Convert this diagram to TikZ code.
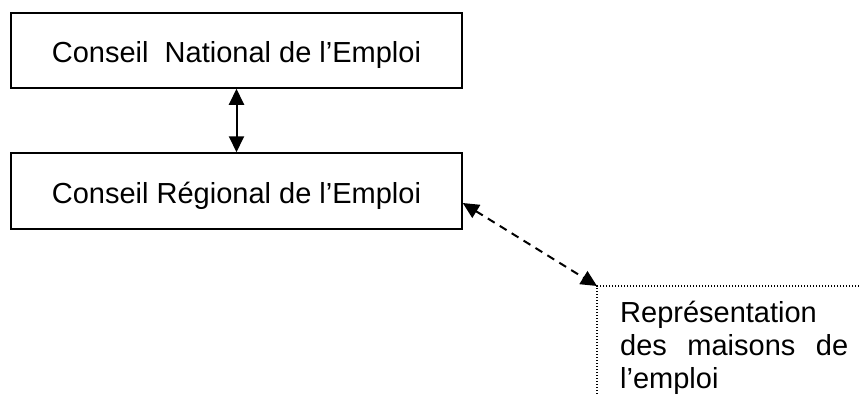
\documentclass[tikz,border=0pt]{standalone}
\usepackage{fontspec}
\setmainfont{Liberation Sans}
\usetikzlibrary{arrows.meta,calc}
\begin{document}
\begin{tikzpicture}[x=1pt,y=-1pt,
  boxstyle/.style={draw=black,line width=1.5pt,minimum width=451pt,inner sep=0pt,
    text height=25pt,text depth=0pt,font=\fontsize{29}{33}\selectfont},
  biarrow/.style={line width=2pt,{Triangle[length=16pt,width=15pt]}-{Triangle[length=16pt,width=15pt]}},
  dotline/.style={line width=1.2pt,dash pattern=on 1.2pt off 1.8pt},
  txt/.style={inner sep=0pt,font=\fontsize{29}{33}\selectfont}]
\useasboundingbox (0,0) rectangle (859,396);
\node[boxstyle,minimum height=75pt] (b1) at (236.5,50.5) {Conseil~ National de l'Emploi};
\node[boxstyle,minimum height=76pt] (b2) at (236.5,191) {Conseil Régional de l'Emploi};
\draw[biarrow] (b1.south) -- (b2.north);
\coordinate (rc) at (597,286);
\coordinate (rr) at (859,286);
\coordinate (rb) at (597,396);
\draw[dotline] (rr) -- (rc) -- (rb);
\draw[biarrow,dash pattern=on 8pt off 6pt] ($(b2.east)+(0,12)$) -- (rc);
\node[txt,anchor=base west,align=left] (rep) at (620,388)
  {Représentation\\\makebox[228pt][s]{des maisons de}\\l'emploi};
\end{tikzpicture}
\end{document}
